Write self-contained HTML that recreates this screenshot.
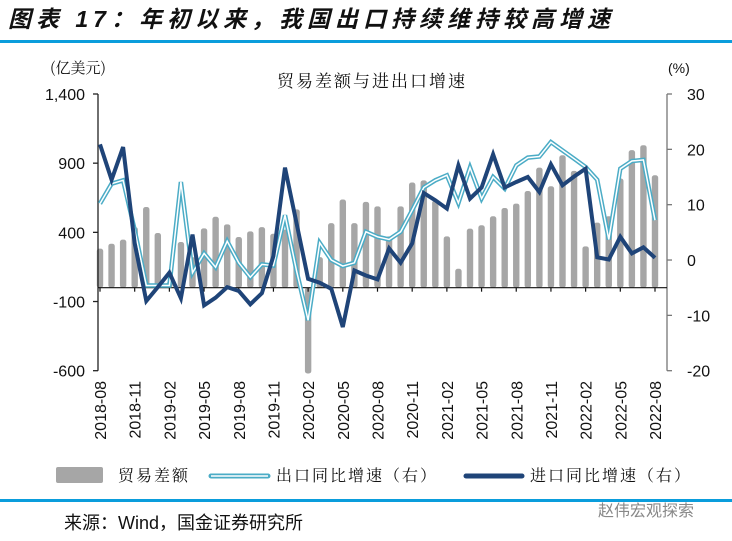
<!DOCTYPE html>
<html><head><meta charset="utf-8"><style>
body{margin:0;background:#fff;width:732px;height:536px;overflow:hidden;font-family:"Liberation Sans","Noto Sans CJK SC",sans-serif}
</style></head><body>
<svg width="732" height="536" xmlns="http://www.w3.org/2000/svg">
<text x="8" y="27" font-size="23" font-weight="bold" font-style="italic" fill="#111" letter-spacing="5" font-family="Liberation Sans,Noto Sans CJK SC,sans-serif">图表 17：年初以来，我国出口持续维持较高增速</text>
<rect x="0" y="40" width="732" height="3" fill="#0a9ddc"/>
<text x="50" y="73" font-size="15" font-family="Noto Serif CJK SC,serif" fill="#111">(亿美元)</text>
<text x="668" y="73" font-size="14" fill="#111">(%)</text>
<text x="372" y="87" font-size="17" text-anchor="middle" font-family="Noto Serif CJK SC,serif" fill="#111" letter-spacing="2">贸易差额与进出口增速</text>
<g id="plot"></g>
<g>
<rect x="56" y="467" width="47" height="16" rx="2" fill="#a6a6a6"/>
<text x="118" y="481" font-size="16" font-family="Noto Serif CJK SC,serif" fill="#111" letter-spacing="2">贸易差额</text>
<line x1="211" y1="476" x2="268" y2="476" stroke="#4bacc6" stroke-width="5" stroke-linecap="round"/>
<line x1="211" y1="476" x2="268" y2="476" stroke="#fff" stroke-width="1.6"/>
<text x="276" y="481" font-size="16" font-family="Noto Serif CJK SC,serif" fill="#111" letter-spacing="2">出口同比增速（右）</text>
<line x1="466" y1="476" x2="522" y2="476" stroke="#1f4478" stroke-width="5" stroke-linecap="round"/>
<text x="530" y="481" font-size="16" font-family="Noto Serif CJK SC,serif" fill="#111" letter-spacing="2">进口同比增速（右）</text>
</g>
<rect x="0" y="499" width="732" height="3" fill="#0a9ddc"/>
<text x="64" y="529" font-size="18" fill="#111" font-family="Liberation Sans,Noto Sans CJK SC,sans-serif">来源：Wind，国金证券研究所</text>
<text x="598" y="516" font-size="16" fill="#888" font-family="Noto Sans CJK SC,sans-serif">赵伟宏观探索</text>
</svg>
<script>
const months=["2018-08","2018-09","2018-10","2018-11","2018-12","2019-01","2019-02","2019-03","2019-04","2019-05","2019-06","2019-07","2019-08","2019-09","2019-10","2019-11","2019-12","2020-01","2020-02","2020-03","2020-04","2020-05","2020-06","2020-07","2020-08","2020-09","2020-10","2020-11","2020-12","2021-01","2021-02","2021-03","2021-04","2021-05","2021-06","2021-07","2021-08","2021-09","2021-10","2021-11","2021-12","2022-01","2022-02","2022-03","2022-04","2022-05","2022-06","2022-07","2022-08"];
const tradeBalance=[282,318,347,438,583,395,40,330,220,429,513,458,366,407,438,390,420,566,-620,221,467,637,467,620,588,371,588,760,776,630,371,137,427,451,516,576,608,699,868,733,957,844,299,470,516,789,994,1030,813];
const exportGrowth=[10.2,13.8,14.4,5.4,-4.6,-4.6,-4.6,14.1,-2.3,1.2,-1.3,3.4,-0.5,-3.1,-0.8,-1.0,8.1,-2,-10.9,3.1,0,-1.1,-0.5,5.1,4.2,3.7,5.1,9.0,13.1,14.4,15.3,10.3,16.7,11.1,15.0,12.9,17.1,18.5,18.7,21.3,19.8,18.3,16.8,14.5,3.7,16.5,17.9,18.1,7.2];
const importGrowth=[20.9,14.5,20.4,3.0,-7.4,-4.9,-2.3,-6.9,4.6,-8.2,-6.8,-4.9,-5.6,-8.0,-6.0,0.7,16.7,6.6,-3.4,-4.1,-5.2,-12.1,-1.9,-2.8,-3.5,2.1,-0.5,3.0,12.1,10.8,9.3,17.1,11.1,13.1,19.1,13.1,14.1,15.0,12.3,17.3,13.5,15.1,16.5,0.5,0.1,4.2,1.2,2.3,0.4];
const leftTicks=[1400,900,400,-100,-600];
const rightTicks=[30,20,10,0,-10,-20];
const NS="http://www.w3.org/2000/svg";
const g=document.getElementById('plot');
const X0=100,DX=(655-100)/48,LX=98,RX=667;
const yL=v=>94+(1400-v)*(370.7-94)/2000;
const yR=v=>94+(30-v)*(370.7-94)/50;
const xI=i=>X0+i*DX;
function mk(t,a){const e=document.createElementNS(NS,t);for(const k in a)e.setAttribute(k,a[k]);g.appendChild(e);return e;}
tradeBalance.forEach((v,i)=>{
 const y0=yL(0),y1=yL(v);
 const b=mk('rect',{x:xI(i)-3.2,y:Math.min(y0,y1),width:6.4,height:Math.max(1,Math.abs(y1-y0)),rx:2.5,fill:'#a6a6a6'});
 
 
});
let a=mk('line',{x1:LX,y1:94,x2:LX,y2:370.7,stroke:'#222','stroke-width':1.3});


a=mk('line',{x1:RX,y1:94,x2:RX,y2:370.7,stroke:'#777','stroke-width':1.3});


a=mk('line',{x1:LX,y1:yL(0),x2:RX,y2:yL(0),stroke:'#111','stroke-width':1.2});


leftTicks.forEach(v=>{
 mk('line',{x1:LX-5,y1:yL(v),x2:LX,y2:yL(v),stroke:'#222','stroke-width':1.3});
 const t=mk('text',{x:LX-13,y:yL(v)+6,'font-size':16,'text-anchor':'end',fill:'#111'});
 t.textContent=v.toLocaleString('en-US');
 
 
});
rightTicks.forEach(v=>{
 mk('line',{x1:RX,y1:yR(v),x2:RX+5,y2:yR(v),stroke:'#777','stroke-width':1.3});
 const t=mk('text',{x:RX+20,y:yR(v)+6,'font-size':16,fill:'#111'});
 t.textContent=v;
 
 
});
months.forEach((m,i)=>{
 if(i%3)return;
 mk('line',{x1:xI(i),y1:yL(0),x2:xI(i),y2:yL(0)+4,stroke:'#111','stroke-width':1.2});
 const t=mk('text',{x:0,y:0,'font-size':16,'text-anchor':'end',fill:'#111',transform:`translate(${xI(i)+6},381) rotate(-90)`});
 t.textContent=m;
 
 
});
const pts=arr=>arr.map((v,i)=>xI(i).toFixed(1)+','+yR(v).toFixed(1)).join(' ');
let l=mk('polyline',{points:pts(exportGrowth),fill:'none',stroke:'#4bacc6','stroke-width':4.5,'stroke-linejoin':'miter'});


l=mk('polyline',{points:pts(exportGrowth),fill:'none',stroke:'#fff','stroke-width':1.5});


l=mk('polyline',{points:pts(importGrowth),fill:'none',stroke:'#1f4478','stroke-width':4,'stroke-linejoin':'miter'});


</script>
</body></html>
